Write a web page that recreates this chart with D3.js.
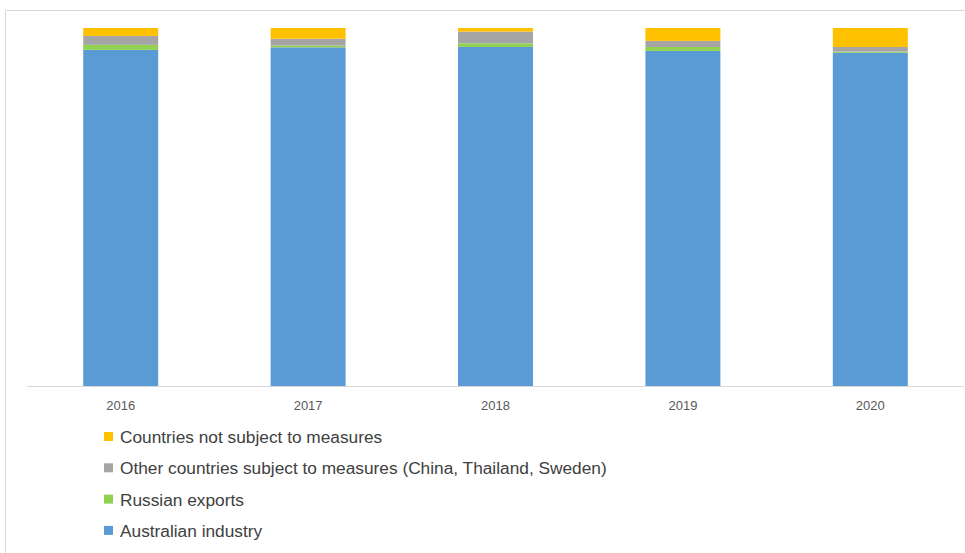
<!DOCTYPE html>
<html>
<head>
<meta charset="utf-8">
<script src="https://cdnjs.cloudflare.com/ajax/libs/d3/7.8.5/d3.min.js"></script>
<style>
  body { margin: 0; background: #fff; }
  svg { display: block; font-family: "Liberation Sans", Arial, sans-serif; }
</style>
</head>
<body>
<svg id="chart" width="965" height="553"></svg>
<script>
var years = ["2016", "2017", "2018", "2019", "2020"];
var seriesNames = ["Australian industry", "Russian exports", "Other countries subject to measures (China, Thailand, Sweden)", "Countries not subject to measures"];
var australian = [93.9, 94.6, 94.7, 93.6, 93.1];
var russian    = [1.4, 0.5, 1.0, 1.1, 0.3];
var otherMeas  = [2.5, 1.9, 3.3, 1.7, 1.3];
var notSubject = [2.2, 3.0, 1.0, 3.6, 5.3];
var colors = ["#5b9bd5", "#92d050", "#a5a5a5", "#ffc000"];

function init(){
    var svg = d3.select("svg#chart");
    var width = 965, height = 553;

    // chart frame
    svg.append("path")
      .attr("d", "M5.5," + height + "V10.5H" + width)
      .attr("fill", "none")
      .attr("stroke", "#d9d9d9");

    var table = years.map(function(y, i){
        return { year: y, s0: australian[i], s1: russian[i], s2: otherMeas[i], s3: notSubject[i] };
    });
    var stack = d3.stack().keys(["s0", "s1", "s2", "s3"]);
    var layers = stack(table);

    var x = d3.scaleBand()
      .domain(years)
      .range([27, 964])
      .paddingInner(0.6)
      .paddingOuter(0.3);

    var y = d3.scaleLinear()
      .domain([0, 100])
      .range([386, 28]);

    var g = svg.append("g");
    g.selectAll("g.layer")
        .data(layers)
      .enter().append("g")
        .attr("class", "layer")
        .attr("fill", function(d, i){ return colors[i]; })
      .selectAll("rect")
        .data(function(d){ return d; })
      .enter().append("rect")
        .attr("x", function(d){ return x(d.data.year); })
        .attr("width", x.bandwidth())
        .attr("y", function(d){ return y(d[1]); })
        .attr("height", function(d){ return y(d[0]) - y(d[1]); });

    // x axis
    var xAxis = svg.append("g")
      .attr("transform", "translate(0,386)")
      .call(d3.axisBottom(x).tickSize(0).tickPadding(15));
    xAxis.select(".domain").attr("stroke", "#d9d9d9").attr("d", "M27,0.5H964");
    xAxis.selectAll("text")
      .attr("fill", "#595959")
      .style("font-size", "13px")
      .style("font-family", "'Liberation Sans', Arial, sans-serif");

    // legend, top entry is the top series
    var legend = svg.append("g");
    var order = [3, 2, 1, 0];
    order.forEach(function(k, i){
        var ly = 437 + i * 31.3;
        legend.append("rect")
          .attr("x", 104).attr("y", ly - 5)
          .attr("width", 9).attr("height", 9)
          .attr("fill", colors[k]);
        legend.append("text")
          .attr("x", 120).attr("y", ly)
          .attr("dy", "0.35em")
          .attr("fill", "#404040")
          .style("font-size", "17.3px")
          .text(seriesNames[k]);
    });
}

init();
</script>
</body>
</html>
